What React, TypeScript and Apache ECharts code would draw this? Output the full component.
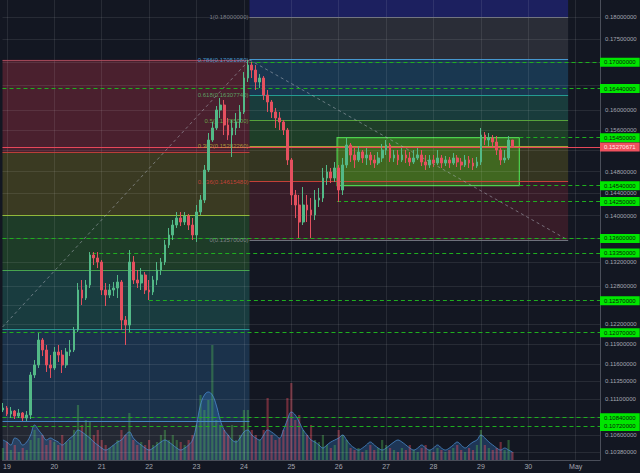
import React, { useEffect, useRef } from "react";
import * as echarts from "echarts";

// ---- axes ----
const X_MIN = 18.9076; // day-of-April at left edge
const X_MAX = 31.5126; // May 1 = 31
const Y_MIN = 0.10274;
const Y_MAX = 0.183916;
const FONT = "'Liberation Sans', Arial, sans-serif";

const dayTicks = [19, 20, 21, 22, 23, 24, 25, 26, 27, 28, 29, 30, 31];
const priceTicks = [0.18, 0.175, 0.17, 0.165, 0.16, 0.156, 0.152, 0.148, 0.144, 0.14, 0.136, 0.132, 0.128, 0.125, 0.122, 0.119, 0.116, 0.1135, 0.111, 0.1085, 0.106, 0.1038];
const hiddenPriceTicks = [0.17, 0.165, 0.152, 0.136, 0.125, 0.1085];

// ---- candles (2h) ----
const START_DAY = 18.917;
const STEP_DAY = 1 / 12;
const firstOpen = 0.10945;
const closes = [
  0.10973, 0.1089, 0.10931, 0.10862, 0.10904, 0.10835, 0.10876, 0.11441, 0.11587, 0.11959,
  0.11809, 0.11587, 0.11543, 0.11779, 0.11734, 0.11587, 0.11779, 0.11809, 0.12111, 0.12741,
  0.12612, 0.12822, 0.13318, 0.13268, 0.132, 0.12741, 0.1266, 0.12741, 0.12773, 0.1287,
  0.12266, 0.12188, 0.132, 0.12903, 0.12854, 0.12985, 0.12741, 0.12709, 0.12903, 0.13067,
  0.132, 0.13488, 0.1366, 0.13833, 0.13957, 0.13886, 0.13992, 0.13833, 0.1366, 0.14063,
  0.14278, 0.14831, 0.15405, 0.15641, 0.16001, 0.16102, 0.157, 0.15502, 0.15641, 0.1576,
  0.15961, 0.16662, 0.16938, 0.16831, 0.16578, 0.16662, 0.16307, 0.16164, 0.15961, 0.1584,
  0.1576, 0.15601, 0.1502, 0.14369, 0.14188, 0.13886, 0.14188, 0.14099, 0.1401, 0.14278,
  0.14314, 0.14681, 0.14793, 0.14681, 0.14869, 0.1446, 0.14925, 0.15307, 0.15115, 0.1502,
  0.15173, 0.15058, 0.15115, 0.1502, 0.14963, 0.15058, 0.15211, 0.15307, 0.15058, 0.15115,
  0.1502, 0.15115, 0.15058, 0.14982, 0.15058, 0.15115, 0.14982, 0.14925, 0.1502, 0.14963,
  0.15058, 0.14963, 0.1502, 0.14963, 0.15058, 0.14982, 0.14925, 0.1502, 0.14963, 0.14906,
  0.14982, 0.15502, 0.15405, 0.15444, 0.15366, 0.15211, 0.1502, 0.15058, 0.15405, 0.15270671,
];
const highs = [
  0.11043, 0.11001, 0.10987, 0.10945, 0.10959, 0.10917, 0.10931, 0.11485, 0.1166, 0.12065,
  0.11989, 0.11884, 0.11734, 0.11854, 0.11884, 0.11809, 0.11839, 0.11959, 0.12157, 0.12854,
  0.12903, 0.12903, 0.13368, 0.13368, 0.13368, 0.13234, 0.12854, 0.12838, 0.1287, 0.12985,
  0.12903, 0.12328, 0.13402, 0.13301, 0.13067, 0.131, 0.13034, 0.12903, 0.12969, 0.132,
  0.13268, 0.13573, 0.13781, 0.13921, 0.14063, 0.14063, 0.14063, 0.14028, 0.13957, 0.14188,
  0.14369, 0.14925, 0.15541, 0.1576, 0.16082, 0.16246, 0.16205, 0.1584, 0.158, 0.1594,
  0.16102, 0.16789, 0.17046, 0.17003, 0.16938, 0.16746, 0.16704, 0.16411, 0.16205, 0.16041,
  0.15961, 0.158, 0.15641, 0.15058, 0.1446, 0.14369, 0.14515, 0.14369, 0.14314, 0.1446,
  0.14497, 0.14869, 0.14925, 0.14869, 0.14982, 0.14925, 0.15058, 0.15444, 0.15346, 0.15249,
  0.15288, 0.15211, 0.15249, 0.15173, 0.15115, 0.15173, 0.15327, 0.15405, 0.15346, 0.15211,
  0.15211, 0.15249, 0.15211, 0.15173, 0.15211, 0.15249, 0.15211, 0.15115, 0.15115, 0.15115,
  0.15211, 0.15115, 0.15096, 0.15077, 0.15153, 0.15115, 0.15058, 0.15115, 0.15096, 0.15058,
  0.15077, 0.15641, 0.15561, 0.15541, 0.15502, 0.15483, 0.15249, 0.15211, 0.15483, 0.15405,
];
const lows = [
  0.10917, 0.10862, 0.10835, 0.10821, 0.10835, 0.10794, 0.10794, 0.10821, 0.11398, 0.11543,
  0.11719, 0.11485, 0.11398, 0.11514, 0.11631, 0.1147, 0.11543, 0.11719, 0.11779, 0.12081,
  0.12501, 0.1258, 0.12773, 0.1315, 0.131, 0.1266, 0.12485, 0.12612, 0.12644, 0.12612,
  0.12111, 0.11884, 0.12081, 0.12838, 0.12773, 0.12741, 0.12676, 0.1258, 0.1266, 0.12822,
  0.12985, 0.1315, 0.13436, 0.13573, 0.13781, 0.13815, 0.13833, 0.13746, 0.13573, 0.13539,
  0.1401, 0.14224, 0.14793, 0.15366, 0.15601, 0.1584, 0.15502, 0.15405, 0.15077, 0.15502,
  0.15641, 0.1592, 0.16578, 0.16662, 0.16411, 0.16453, 0.16205, 0.15961, 0.1584, 0.15641,
  0.15601, 0.15502, 0.14925, 0.14188, 0.13957, 0.13608, 0.13833, 0.13886, 0.13608, 0.13921,
  0.14152, 0.14242, 0.14552, 0.14589, 0.14607, 0.14242, 0.14369, 0.14869, 0.14982, 0.14869,
  0.14982, 0.14963, 0.14925, 0.14925, 0.14869, 0.14925, 0.14982, 0.15115, 0.14982, 0.14982,
  0.14925, 0.14982, 0.14963, 0.14906, 0.14944, 0.1502, 0.14906, 0.14831, 0.14869, 0.14887,
  0.14925, 0.14869, 0.14906, 0.14869, 0.14925, 0.14887, 0.14831, 0.14887, 0.14869, 0.14831,
  0.14869, 0.14925, 0.15307, 0.15288, 0.15249, 0.15115, 0.14925, 0.14963, 0.1502, 0.15249,
];
const volumes = [
  12, 18, 10, 15, 8, 12, 10, 20, 30, 22,
  25, 15, 20, 18, 15, 25, 18, 20, 30, 55,
  35, 40, 38, 25, 30, 20, 15, 12, 15, 20,
  30, 25, 47, 20, 15, 18, 15, 20, 15, 18,
  25, 30, 20, 25, 20, 18, 15, 20, 25, 35,
  65, 50, 60, 115, 40, 35, 30, 25, 35, 20,
  25, 50, 50, 30, 25, 20, 30, 62, 25, 20,
  22, 30, 62, 77, 40, 45, 30, 25, 35, 20,
  18, 25, 15, 12, 15, 30, 25, 20, 12, 10,
  12, 8, 10, 15, 10, 12, 20, 15, 12, 10,
  8, 12, 10, 15, 10, 8, 12, 15, 10, 8,
  12, 10, 8, 10, 12, 15, 10, 8, 12, 10,
  15, 30, 15, 12, 10, 12, 18, 10, 20, 8,
];
const volumeFlow = [
  20, 18, 15, 22, 20, 15, 18, 25, 35, 30,
  25, 20, 22, 20, 18, 15, 18, 22, 25, 30,
  28, 25, 22, 18, 15, 12, 10, 12, 15, 18,
  20, 25, 28, 22, 18, 15, 12, 10, 12, 15,
  18, 20, 18, 15, 12, 10, 12, 15, 20, 35,
  55, 65, 68, 65, 55, 40, 30, 25, 20, 18,
  22, 28, 30, 25, 22, 20, 25, 30, 28, 25,
  22, 30, 40, 48, 45, 38, 30, 25, 20, 18,
  15, 12, 15, 18, 20, 22, 25, 20, 15, 12,
  10, 12, 15, 18, 15, 12, 10, 12, 15, 18,
  20, 18, 15, 12, 10, 12, 15, 12, 10, 12,
  15, 12, 10, 12, 15, 18, 15, 12, 15, 18,
  20, 25, 22, 18, 15, 12, 10, 12, 10, 8,
];

// ---- drawings ----
const FIB_SPLIT = 24.118;
const RIGHT_FIB_END = 30.84;
const leftFibLevels = [0.1705, 0.1517, 0.1401, 0.1307, 0.1213, 0.1079, 0.0909];
const leftFibFill = ["rgba(239,59,82,0.25)", "rgba(175,163,34,0.25)", "rgba(63,170,58,0.25)", "rgba(43,171,150,0.25)", "rgba(51,131,198,0.25)", "rgba(100,104,115,0.22)"];
const leftFibLine = ["#a84a5c", "#c8413c", "#9cc43c", "#4caf50", "#2aa198", "#4a90d0", "#777"];
const rightFibRatios = ["0", "0.236", "0.382", "0.5", "0.618", "0.786", "1"];
const rightFibLevels = [0.1357, 0.1461548, 0.1528226, 0.15785, 0.1630774, 0.1705198, 0.18];
const rightFibFill = ["rgba(163,43,60,0.25)", "rgba(175,163,34,0.22)", "rgba(63,179,58,0.25)", "rgba(43,171,138,0.25)", "rgba(43,151,218,0.25)", "rgba(111,111,118,0.25)", "rgba(45,49,208,0.35)"];
const rightFibLine = ["#787b86", "#d4433b", "#b5a83a", "#5dae3c", "#26a69a", "#4aa3df", "#787b86"];
const rightFibText = ["#8a8d96", "#d4433b", "#b5a83a", "#6ab04c", "#5fae6a", "#4aa3df", "#8a8d96"];
const diagLeft = [[X_MIN, 0.12157], [FIB_SPLIT, 0.1705]];
const diagRight = [[FIB_SPLIT, 0.1705], [RIGHT_FIB_END, 0.1357]];
const boxCorners = [[25.966, 0.1545], [29.811, 0.1454]];
const markerLevels = [0.17, 0.1644, 0.1545, 0.1454, 0.1425, 0.136, 0.1335, 0.1257, 0.1207, 0.1084, 0.1072];
const markerStarts = [24.118, X_MIN, 29.811, 29.811, 25.966, X_MIN, 20.8, 21.996, X_MIN, X_MIN, X_MIN];
const lastPrice = 0.15270671;

export default function App() {
  const ref = useRef<HTMLDivElement>(null);
  useEffect(() => {
    if (!ref.current) return;
    const chart = echarts.init(ref.current, null, { renderer: "svg" });

    const opens = closes.map((c, i) => (i === 0 ? firstOpen : closes[i - 1]));
    const times = closes.map((_, i) => START_DAY + i * STEP_DAY);
    const candleData = closes.map((c, i) => [
      times[i], opens[i], c,
      Math.min(lows[i], opens[i], c),
      Math.max(highs[i], opens[i], c),
    ]);
    const volData = volumes.map((v, i) => ({
      value: [times[i], v],
      itemStyle: { color: closes[i] >= opens[i] ? "rgba(76,175,80,0.42)" : "rgba(235,77,92,0.42)" },
    }));
    const flowData = volumeFlow.map((v, i) => [times[i], v]);

    const clampY = (v: number) => Math.min(Math.max(v, Y_MIN), Y_MAX);

    const fibAreas: any[] = [];
    for (let k = 0; k < leftFibLevels.length - 1; k++) {
      fibAreas.push([
        { coord: [X_MIN, clampY(leftFibLevels[k])], itemStyle: { color: leftFibFill[k] } },
        { coord: [FIB_SPLIT, clampY(leftFibLevels[k + 1])] },
      ]);
    }
    const rTops = [...rightFibLevels, Y_MAX];
    for (let k = 0; k < rightFibLevels.length; k++) {
      fibAreas.push([
        { coord: [FIB_SPLIT, clampY(rTops[k])], itemStyle: { color: rightFibFill[k] } },
        { coord: [RIGHT_FIB_END, clampY(rTops[k + 1])] },
      ]);
    }

    const gridLines: any[] = [];
    dayTicks.forEach((d) => gridLines.push([{ coord: [d, Y_MIN] }, { coord: [d, Y_MAX] }]));
    priceTicks.forEach((p) =>
      gridLines.push([
        {
          coord: [X_MIN, p],
          label: {
            show: hiddenPriceTicks.indexOf(p) < 0,
            position: "end",
            distance: 5,
            formatter: p.toFixed(8),
            color: "#a3a6af",
            fontSize: 6,
            fontFamily: FONT,
          },
        },
        { coord: [X_MAX, p] },
      ])
    );

    const fibLines: any[] = [];
    leftFibLevels.forEach((lv, k) => {
      if (lv < Y_MIN) return;
      fibLines.push([
        { coord: [X_MIN, lv], lineStyle: { color: leftFibLine[k], width: 1, type: "solid", opacity: 0.9 } },
        { coord: [FIB_SPLIT, lv] },
      ]);
    });
    rightFibLevels.forEach((rv, k) => {
      fibLines.push([
        {
          coord: [FIB_SPLIT, rv],
          lineStyle: { color: rightFibLine[k], width: 1, type: "solid", opacity: 0.9 },
          label: {
            show: true,
            position: "start",
            distance: 1,
            formatter: `${rightFibRatios[k]}(${rv.toFixed(8)})`,
            color: rightFibText[k],
            fontSize: 6,
            fontFamily: FONT,
          },
        },
        { coord: [RIGHT_FIB_END, rv] },
      ]);
    });
    [diagLeft, diagRight].forEach((d) =>
      fibLines.push([
        { coord: d[0], lineStyle: { color: "rgba(170,175,185,0.55)", width: 1, type: [3, 3] } },
        { coord: d[1] },
      ])
    );

    const markerLines = markerLevels.map((lv, k) => [
      {
        coord: [markerStarts[k], lv],
        label: {
          show: true,
          position: "end",
          distance: 0,
          formatter: lv.toFixed(8),
          backgroundColor: "#00e600",
          color: "#0b1a0b",
          fontSize: 6,
          lineHeight: 7,
          padding: [1, 4, 1, 4],
          fontFamily: FONT,
        },
      },
      { coord: [X_MAX, lv] },
    ]);

    const helper = (z: number, extra: any) => ({
      type: "line",
      data: [[X_MIN, Y_MAX]],
      symbol: "none",
      silent: true,
      lineStyle: { opacity: 0 },
      z,
      ...extra,
    });

    chart.setOption({
      animation: false,
      backgroundColor: "#131722",
      textStyle: { fontFamily: FONT },
      grid: { left: 0, right: 40, top: 0, bottom: 13, containLabel: false },
      xAxis: {
        type: "value",
        min: X_MIN,
        max: X_MAX,
        axisLine: { show: true, lineStyle: { color: "#4a4e59" } },
        axisTick: { show: false },
        splitLine: { show: false },
        axisLabel: {
          customValues: dayTicks,
          formatter: (v: number) => (Math.round(v) === 31 ? "May" : String(Math.round(v))),
          color: "#a3a6af",
          fontSize: 7,
          margin: 3,
          fontFamily: FONT,
        },
      },
      yAxis: [
        {
          type: "log",
          logBase: 10,
          min: Y_MIN,
          max: Y_MAX,
          position: "right",
          axisLine: { show: true, lineStyle: { color: "#4a4e59" } },
          axisTick: { show: false },
          axisLabel: { show: false },
          splitLine: { show: false },
        },
        { type: "value", min: 0, max: 460, show: false },
      ],
      series: [
        helper(1, { markArea: { silent: true, data: fibAreas } }),
        helper(2, {
          markLine: {
            silent: true,
            symbol: ["none", "none"],
            label: { show: false },
            lineStyle: { color: "rgba(255,255,255,0.085)", width: 1, type: "solid" },
            data: gridLines,
          },
        }),
        helper(3, {
          markLine: {
            silent: true,
            symbol: ["none", "none"],
            label: { show: false },
            data: fibLines,
          },
        }),
        {
          type: "bar",
          yAxisIndex: 1,
          data: volData,
          barWidth: 2.2,
          z: 4,
          silent: true,
        },
        {
          type: "line",
          yAxisIndex: 1,
          data: flowData,
          smooth: 0.4,
          symbol: "none",
          z: 4,
          silent: true,
          lineStyle: { color: "rgba(80,150,220,0.7)", width: 1 },
          areaStyle: { color: "rgba(55,125,200,0.45)" },
        },
        helper(5, {
          markLine: {
            silent: true,
            symbol: ["none", "none"],
            lineStyle: { color: "#1fae1f", width: 1, type: [4, 3] },
            data: markerLines,
          },
        }),
        {
          type: "candlestick",
          data: candleData,
          encode: { x: 0, y: [1, 2, 3, 4] },
          barWidth: 2.2,
          z: 6,
          silent: true,
          itemStyle: {
            color: "#53b987",
            color0: "#e4505f",
            borderColor: "#53b987",
            borderColor0: "#e4505f",
            borderWidth: 1,
          },
        },
        helper(7, {
          markArea: {
            silent: true,
            data: [[
              { coord: boxCorners[0], itemStyle: { color: "rgba(90,205,30,0.33)", borderColor: "#4ed14e", borderWidth: 1.2 } },
              { coord: boxCorners[1] },
            ]],
          },
        }),
        helper(8, {
          markLine: {
            silent: true,
            symbol: ["none", "none"],
            data: [[
              {
                coord: [X_MIN, lastPrice],
                lineStyle: { color: "#e8475a", width: 1, type: "solid" },
                label: {
                  show: true,
                  position: "end",
                  distance: 0,
                  formatter: lastPrice.toFixed(8),
                  backgroundColor: "#f0515e",
                  color: "#ffe8ea",
                  fontSize: 6,
                  lineHeight: 7,
                  padding: [1, 4, 1, 4],
                  fontFamily: FONT,
                },
              },
              { coord: [X_MAX, lastPrice] },
            ]],
          },
        }),
      ],
    });
    return () => chart.dispose();
  }, []);
  return <div ref={ref} style={{ position: "fixed", left: 0, top: 0, width: 640, height: 473 }} />;
}
